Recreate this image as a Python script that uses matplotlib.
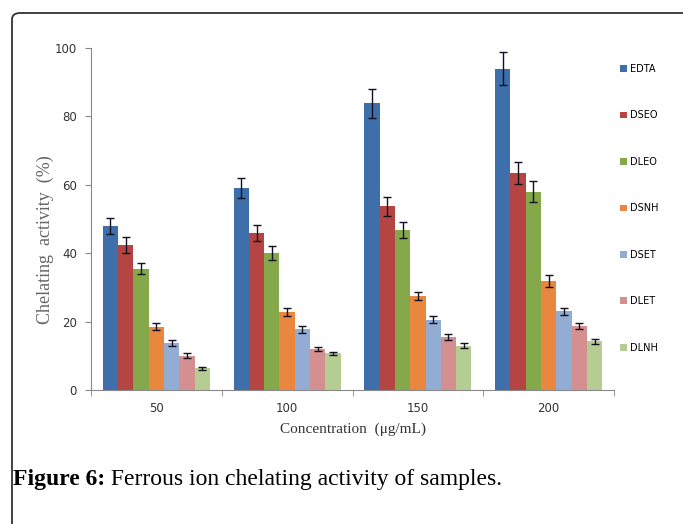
import numpy as np
import matplotlib.pyplot as plt
from matplotlib.patches import FancyBboxPatch

# data
concentrations = ["50", "100", "150", "200"]
samples = ["EDTA", "DSEO", "DLEO", "DSNH", "DSET", "DLET", "DLNH"]
values = {
    "EDTA": [48.0, 59.0, 83.8, 94.0],
    "DSEO": [42.5, 46.0, 53.7, 63.4],
    "DLEO": [35.5, 40.0, 46.8, 58.0],
    "DSNH": [18.5, 22.8, 27.5, 31.8],
    "DSET": [13.7, 17.8, 20.6, 23.0],
    "DLET": [10.0, 12.0, 15.5, 18.8],
    "DLNH": [6.3, 10.7, 13.0, 14.2],
}
errors = {
    "EDTA": [2.4, 3.0, 4.2, 4.7],
    "DSEO": [2.3, 2.3, 2.8, 3.2],
    "DLEO": [1.7, 2.1, 2.3, 3.0],
    "DSNH": [1.1, 1.1, 1.3, 1.8],
    "DSET": [0.9, 1.0, 1.1, 1.1],
    "DLET": [0.7, 0.7, 0.8, 0.9],
    "DLNH": [0.5, 0.5, 0.6, 0.7],
}
colors = ["#3f6fab", "#b44543", "#84a84a", "#e8873d", "#92acd3", "#d48f90", "#b5cd92"]

fig = plt.figure(figsize=(6.83, 5.24), dpi=100)

# card border
fig.add_artist(FancyBboxPatch((12 / 683, -0.1), 1.2, 1 - 13 / 524 + 0.1,
                              boxstyle="round,pad=0,rounding_size=0.012",
                              transform=fig.transFigure, fill=False,
                              edgecolor="#333333", linewidth=1.3))

ax = fig.add_axes([91 / 683, 1 - 390 / 524, (614 - 91) / 683, 342 / 524])

x = np.arange(len(concentrations))
bw = 0.117
for i, s in enumerate(samples):
    pos = x - 3 * bw + i * bw
    ax.bar(pos, values[s], bw, color=colors[i], label=s)
    ax.errorbar(pos, values[s], yerr=errors[s], fmt="none", ecolor="#111122",
                elinewidth=1.0, capsize=3, capthick=1.0)

ax.set_xlim(-0.5, 3.5)
ax.set_ylim(0, 100)
ax.set_yticks(range(0, 101, 20))
ax.set_xticks(x)
ax.set_xticklabels(concentrations)
ax.set_xticks(np.arange(-0.5, 4, 1), minor=True)
ax.tick_params(axis="x", which="major", length=0, pad=9, labelsize=8.5, labelcolor="#333333")
ax.tick_params(axis="x", which="minor", length=4, color="#888888", direction="out")
ax.tick_params(axis="y", length=4, color="#888888", labelsize=8.5, labelcolor="#333333", pad=6)
for sp in ["top", "right"]:
    ax.spines[sp].set_visible(False)
for sp in ["left", "bottom"]:
    ax.spines[sp].set_color("#888888")

ax.set_xlabel("Concentration  (μg/mL)", family="Liberation Serif", fontsize=11,
              color="#333333", labelpad=5)
ax.set_ylabel("Chelating  activity  (%)", family="Liberation Serif", fontsize=13,
              color="#666666")
ax.yaxis.set_label_coords(-0.07, 0.44)

fig.legend(loc="upper left", bbox_to_anchor=(620 / 683, 1 - 64 / 524),
           frameon=False, fontsize=7, labelspacing=3.75, handlelength=0.7,
           handleheight=0.7, handletextpad=0.3, borderpad=0, borderaxespad=0)

t1 = fig.text(13 / 683, 1 - 485 / 524, "Figure 6:", family="Liberation Serif",
              fontsize=17, fontweight="bold", va="baseline", ha="left")
ax.annotate(" Ferrous ion chelating activity of samples.", xy=(1, 0), xycoords=t1,
            family="Liberation Serif", fontsize=17, va="bottom", ha="left",
            annotation_clip=False)

fig.savefig("out.png", dpi=100)
